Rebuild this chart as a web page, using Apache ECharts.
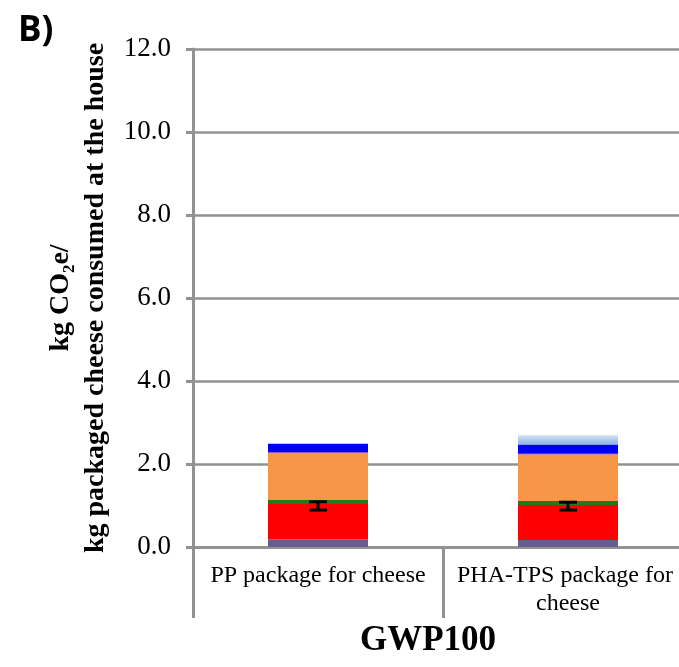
<!DOCTYPE html>
<html><head><meta charset="utf-8">
<script src="https://cdn.jsdelivr.net/npm/echarts@6/dist/echarts.min.js"></script>
<style>html,body{margin:0;padding:0;background:#fff;overflow:hidden;width:679px;height:667px}#c{width:695px;height:667px}</style>
</head><body><div id="c"></div>
<script>
// ---- data ----
const categories = ['PP package for cheese', 'PHA-TPS package for cheese'];
const yMin = 0, yMax = 12, yStep = 2;
const seriesSlate = [0.185, 0.17];
const seriesRed = [0.85, 0.84];
const seriesGreen = [0.10, 0.10];
const seriesOrange = [1.13, 1.12];
const seriesPink = [0.02, 0.02];
const seriesBlue = [0.20, 0.22];
const seriesLightBlue = [0, 0.22];
const errLow = [0.89, 0.89];
const errHigh = [1.09, 1.08];
const yAxisTitle = 'kg CO\u2082e/\nkg packaged cheese consumed at the house';
const xAxisTitle = 'GWP100';
const panelLabel = 'B)';

// ---- chart ----
const gray = '#929292';
const serif = '"Liberation Serif", "Times New Roman", serif';
const chart = echarts.init(document.getElementById('c'), null, {renderer: 'canvas'});

function bar(name, data, color) {
  return {name, type: 'bar', stack: 'total', data, barWidth: 100, itemStyle: {color}, emphasis: {disabled: true}};
}

const errData = categories.map((c, i) => [i, errLow[i], errHigh[i]]);

chart.setOption({
  animation: false,
  backgroundColor: '#fff',
  grid: {left: 193, top: 49, right: 2, height: 498, containLabel: false},
  xAxis: {
    type: 'category', data: categories,
    axisLine: {show: true, lineStyle: {color: gray, width: 3}},
    axisTick: {show: true, interval: 0, alignWithLabel: false, length: 71, lineStyle: {color: gray, width: 3}},
    axisLabel: {interval: 0, margin: 15, color: '#000', fontFamily: serif, fontSize: 24, lineHeight: 28,
      width: 240, overflow: 'break', align: 'center'},
    splitLine: {show: false}
  },
  yAxis: {
    type: 'value', min: yMin, max: yMax, interval: yStep,
    name: yAxisTitle, nameLocation: 'middle', nameRotate: 90, nameGap: 78,
    nameTextStyle: {fontFamily: serif, fontWeight: 'bold', fontSize: 28, lineHeight: 35, color: '#000', align: 'center'},
    axisLine: {show: true, lineStyle: {color: gray, width: 3}},
    axisTick: {show: true, length: 7, lineStyle: {color: gray, width: 3}},
    axisLabel: {margin: 22, color: '#000', fontFamily: serif, fontSize: 27, formatter: v => v.toFixed(1)},
    splitLine: {show: true, lineStyle: {color: gray, width: 2.5}}
  },
  series: [
    bar('s1', seriesSlate, '#675c8d'),
    bar('s2', seriesRed, '#ff0000'),
    bar('s3', seriesGreen, '#227a1c'),
    bar('s4', seriesOrange, '#f79646'),
    bar('s5', seriesPink, '#b04a9c'),
    bar('s6', seriesBlue, '#0000f5'),
    bar('s7', seriesLightBlue, new echarts.graphic.LinearGradient(0, 0, 0, 1, [
      {offset: 0, color: '#d3e2f6'}, {offset: 1, color: '#8fb3e6'}])),
    {
      type: 'custom', z: 10, data: errData,
      renderItem(params, api) {
        const lo = api.coord([api.value(0), api.value(1)]);
        const hi = api.coord([api.value(0), api.value(2)]);
        const w = 9, st = {stroke: '#000', lineWidth: 3};
        return {type: 'group', children: [
          {type: 'line', shape: {x1: lo[0], y1: lo[1], x2: hi[0], y2: hi[1]}, style: st},
          {type: 'line', shape: {x1: lo[0] - w, y1: lo[1], x2: lo[0] + w, y2: lo[1]}, style: st},
          {type: 'line', shape: {x1: hi[0] - w, y1: hi[1], x2: hi[0] + w, y2: hi[1]}, style: st}
        ]};
      }
    }
  ],
  graphic: [
    {type: 'text', left: 18, top: 14, style: {text: panelLabel, font: 'bold 35px "Open Sans", "Noto Sans", sans-serif', fill: '#000'}},
    {type: 'text', x: 428, y: 641, style: {text: xAxisTitle, font: 'bold 35px "Liberation Serif", "Times New Roman", serif', fill: '#000', textAlign: 'center', textVerticalAlign: 'middle'}}
  ]
});
</script></body></html>
